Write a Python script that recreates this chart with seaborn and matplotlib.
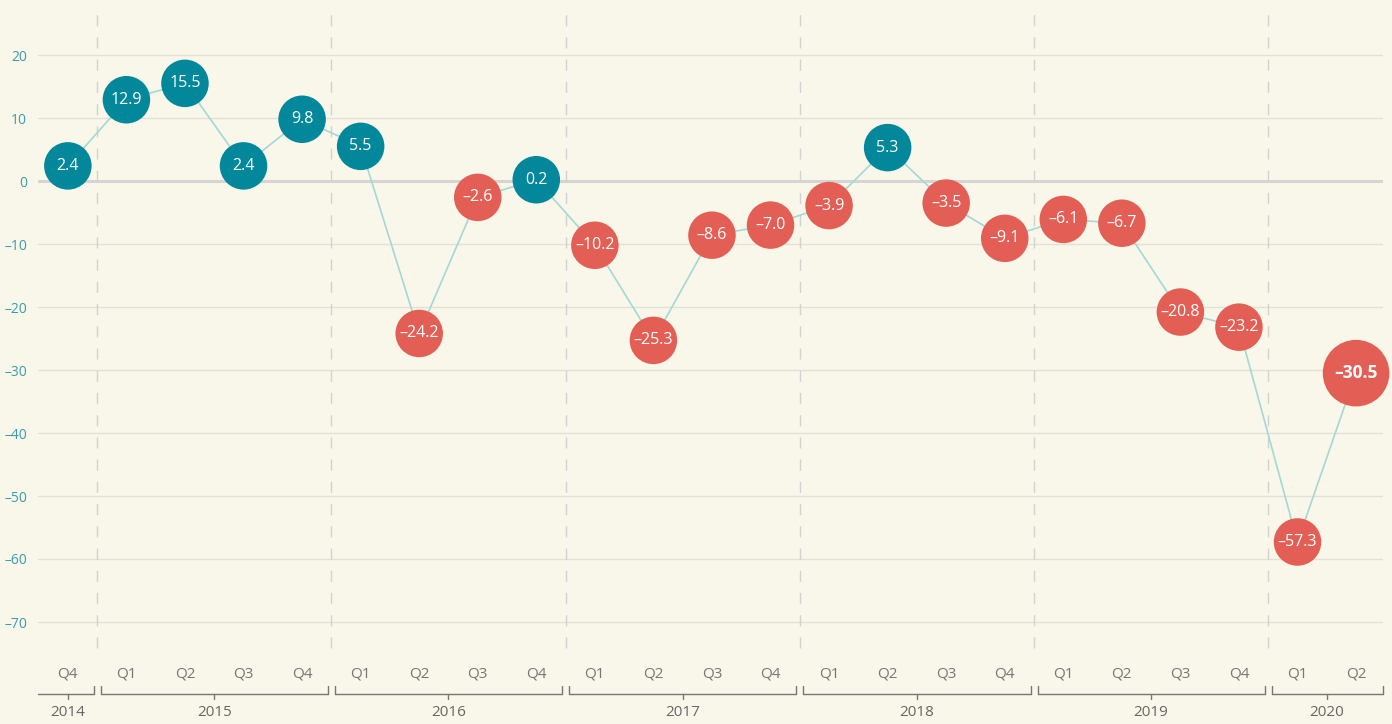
import numpy as np
import pandas as pd
import seaborn as sns
import matplotlib.pyplot as plt
import matplotlib.transforms as mtransforms

# Data
quarters = ["Q4", "Q1", "Q2", "Q3", "Q4", "Q1", "Q2", "Q3", "Q4", "Q1", "Q2", "Q3",
            "Q4", "Q1", "Q2", "Q3", "Q4", "Q1", "Q2", "Q3", "Q4", "Q1", "Q2"]
years = ["2014", "2015", "2015", "2015", "2015", "2016", "2016", "2016", "2016",
         "2017", "2017", "2017", "2017", "2018", "2018", "2018", "2018",
         "2019", "2019", "2019", "2019", "2020", "2020"]
values = [2.4, 12.9, 15.5, 2.4, 9.8, 5.5, -24.2, -2.6, 0.2, -10.2, -25.3, -8.6,
          -7.0, -3.9, 5.3, -3.5, -9.1, -6.1, -6.7, -20.8, -23.2, -57.3, -30.5]
y_ticks = [20, 10, 0, -10, -20, -30, -40, -50, -60, -70]

BG = "#f9f7e9"
TEAL = "#03879b"
RED = "#e35f56"
LINE = "#a3d8d6"
GRID = "#e3e0d8"
GREY = "#777777"

df = pd.DataFrame({"idx": np.arange(len(values)), "value": values,
                   "quarter": quarters, "year": years})
df["sign"] = np.where(df["value"] >= 0, "pos", "neg")
df["latest"] = df["idx"] == df["idx"].max()

sns.set_theme(style="white", rc={"figure.facecolor": BG, "axes.facecolor": BG})
plt.rcParams["font.family"] = ["Open Sans", "DejaVu Sans"]

fig = plt.figure(figsize=(13.92, 7.24), dpi=100)
W, H = 1392, 724
ax = fig.add_axes([38 / W, 1 - 655 / H, (1383 - 38) / W, 655 / H])
ax.set_facecolor(BG)

# gridlines
for t in y_ticks:
    if t == 0:
        ax.axhline(0, color="#d6d5d3", lw=2.2, zorder=1)
    else:
        ax.axhline(t, color=GRID, lw=1, zorder=1)

# year separators
n = len(values)
bounds = [i + 0.5 for i in range(n - 1) if years[i] != years[i + 1]]
for b in bounds:
    ax.axvline(b, ymin=0.01, ymax=0.993, color="#d2d2d2", lw=1, dashes=(8, 8), zorder=1)

sns.lineplot(data=df, x="idx", y="value", color=LINE, lw=1.2, ax=ax, zorder=2)
sns.scatterplot(data=df, x="idx", y="value", hue="sign", size="latest",
                palette={"pos": TEAL, "neg": RED}, sizes={False: 1170, True: 2300},
                linewidth=0, legend=False, ax=ax, zorder=3, clip_on=False)

for _, r in df.iterrows():
    txt = f"{r['value']:.1f}".replace("-", "\u2013")
    ax.text(r["idx"], r["value"], txt, ha="center", va="center", color="white",
            fontsize=12.5 if r["latest"] else 11.5,
            fontweight="bold" if r["latest"] else "normal", zorder=4)

ax.set_xlim(-0.51, 22.46)
ax.set_ylim(-(655 - 181) / 6.3, 181 / 6.3)
ax.set_yticks(y_ticks)
ax.set_yticklabels([str(t).replace("-", "\u2013") for t in y_ticks], color="#3a9cab", fontsize=10)
ax.set_xticks(df["idx"])
ax.set_xticklabels(quarters, color=GREY, fontsize=11)
ax.tick_params(axis="both", length=0)
ax.tick_params(axis="x", pad=8)
ax.tick_params(axis="y", pad=8)
ax.set_xlabel("")
ax.set_ylabel("")
for s in ax.spines.values():
    s.set_visible(False)

# year brackets below the quarter labels
trans = mtransforms.blended_transform_factory(ax.transData, fig.transFigure)
yb = 1 - 694 / H
yup = 1 - 686 / H
ydn = 1 - 699 / H
ylab = 1 - 713 / H
edges = [-0.51] + bounds + [22.46]
uniq = list(dict.fromkeys(years))
for k, yr in enumerate(uniq):
    left = edges[k] + (0.06 if k > 0 else 0)
    right = edges[k + 1] - (0.06 if k < len(uniq) - 1 else 0)
    ax.plot([left, right], [yb, yb], color=GREY, lw=1, transform=trans, clip_on=False)
    if k > 0:
        ax.plot([left, left], [yb, yup], color=GREY, lw=1, transform=trans, clip_on=False)
    ax.plot([right, right], [yb, yup], color=GREY, lw=1, transform=trans, clip_on=False)
    idxs = [i for i in range(n) if years[i] == yr]
    mid = (idxs[0] + idxs[-1]) / 2
    ax.plot([mid, mid], [yb, ydn], color=GREY, lw=1, transform=trans, clip_on=False)
    ax.text(mid, ylab, yr, ha="center", va="center", color="#666666", fontsize=11,
            transform=trans)

fig.savefig("out.png", dpi=100, facecolor=BG)
